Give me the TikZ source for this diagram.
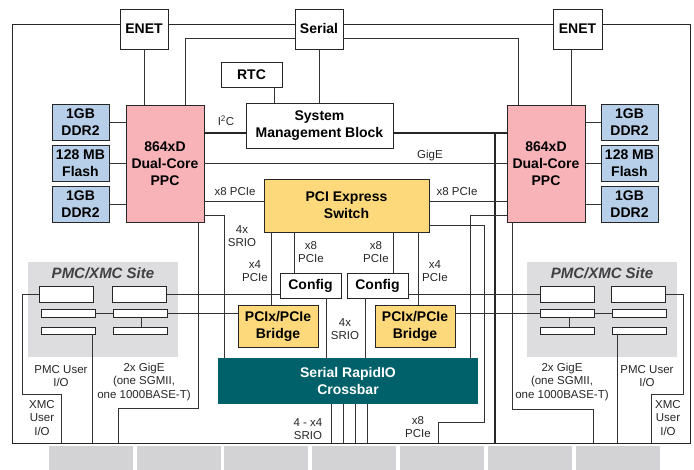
\documentclass[tikz,border=0pt]{standalone}
\usepackage{fontspec}
\setmainfont{Liberation Sans}
\definecolor{ppcpink}{HTML}{F7B3B8}
\definecolor{memblue}{HTML}{B8CFE9}
\definecolor{pcigold}{HTML}{FDD97C}
\definecolor{srioteal}{HTML}{00616B}
\definecolor{sitegray}{HTML}{DDDDE0}
\definecolor{tabgray}{HTML}{D3D3D5}
\begin{document}
\begin{tikzpicture}[x=1pt,y=-1pt,
  wire/.style={draw=black!80,line width=0.8pt},
  bus/.style={draw=black!85,line width=2pt},
  box/.style={draw=black!85,line width=0.9pt,fill=white,align=center,inner sep=0pt,font=\bfseries\fontsize{14}{17}\selectfont},
  ppc/.style={box,fill=ppcpink,minimum width=78pt,minimum height=117pt},
  mem/.style={box,fill=memblue,minimum width=57pt,minimum height=36pt},
  gold/.style={box,fill=pcigold},
  slot/.style={draw=black!85,line width=0.9pt,fill=white,inner sep=0pt,minimum width=54pt},
  site/.style={fill=sitegray,inner sep=0pt,minimum width=150pt,minimum height=95pt},
  sitetitle/.style={inner sep=0pt,text=black!75,font=\bfseries\itshape\fontsize{15}{17}\selectfont},
  lbl/.style={align=center,inner sep=0pt,text=black!85,font=\fontsize{11.5}{13.5}\selectfont}]
\useasboundingbox (0,0) rectangle (694,470);
\node[draw=black!85,line width=0.9pt,inner sep=0pt,minimum width=678pt,minimum height=419pt] (board) at (351,233.5) {};
\node[site] (siteL) at (103,309.5) {};
\node[site] (siteR) at (602,309.5) {};
\foreach \x in {49,137,224,312,400,488,576}
  \fill[tabgray] (\x,446) rectangle ++(84,24);
\node[sitetitle] (tL) at (103,273) {PMC/XMC Site};
\node[sitetitle] (tR) at (602,273) {PMC/XMC Site};
\node[box,minimum width=48pt,minimum height=40pt] (enetL) at (144,29) {ENET};
\node[box,minimum width=48pt,minimum height=40pt] (serial) at (319,29) {Serial};
\node[box,minimum width=49pt,minimum height=40pt] (enetR) at (577.5,29) {ENET};
\node[box,minimum width=61pt,minimum height=25pt] (rtc) at (251.5,74.5) {RTC};
\node[box,minimum width=147pt,minimum height=45pt] (smb) at (319.5,125.5) {System\\Management Block};
\node[ppc] (ppcL) at (165,163.5) {864xD\\Dual-Core\\PPC};
\node[ppc] (ppcR) at (546,163.5) {864xD\\Dual-Core\\PPC};
\node[mem] (memL1) at (80.5,122.5) {1GB\\DDR2};
\node[mem] (memL2) at (80.5,163) {128 MB\\Flash};
\node[mem] (memL3) at (80.5,204) {1GB\\DDR2};
\node[mem] (memR1) at (629.5,122.5) {1GB\\DDR2};
\node[mem] (memR2) at (629.5,163) {128 MB\\Flash};
\node[mem] (memR3) at (629.5,204) {1GB\\DDR2};
\node[gold,minimum width=165pt,minimum height=53pt] (sw) at (346.5,205.5) {PCI Express\\Switch};
\node[box,minimum width=61pt,minimum height=25pt] (cfgL) at (310.5,285.5) {Config};
\node[box,minimum width=61pt,minimum height=25pt] (cfgR) at (377.5,285.5) {Config};
\node[gold,minimum width=80pt,minimum height=42pt] (brL) at (278,326) {PCIx/PCIe\\Bridge};
\node[gold,minimum width=80pt,minimum height=42pt] (brR) at (415,326) {PCIx/PCIe\\Bridge};
\node[box,draw=none,fill=srioteal,text=white,minimum width=260pt,minimum height=46pt] (xbar) at (348,381) {Serial RapidIO\\Crossbar};
\node[slot,minimum height=16pt] (sLa1) at (66.5,294) {};
\node[slot,minimum height=16pt] (sLa2) at (139.5,294) {};
\node[slot,minimum height=8pt] (sLb1) at (68.5,313) {};
\node[slot,minimum height=8pt] (sLb2) at (140,313) {};
\node[slot,minimum height=7pt] (sLc1) at (68.5,330.5) {};
\node[slot,minimum height=7pt] (sLc2) at (140,330.5) {};
\node[slot,minimum height=16pt] (sRa1) at (567,294) {};
\node[slot,minimum height=16pt] (sRa2) at (638.5,294) {};
\node[slot,minimum height=8pt] (sRb1) at (567,313) {};
\node[slot,minimum height=8pt] (sRb2) at (639,313) {};
\node[slot,minimum height=7pt] (sRc1) at (567,330.5) {};
\node[slot,minimum height=7pt] (sRc2) at (639,330.5) {};
\node[lbl] (lI2C) at (226,121) {I\textsuperscript{2}C};
\node[lbl] (lGigE) at (430,156) {GigE};
\node[lbl] (lPcieL) at (235,192) {x8 PCIe};
\node[lbl] (lPcieR) at (457,192) {x8 PCIe};
\node[lbl] (lSrioL) at (242,236) {4x\\SRIO};
\node[lbl] (lX4L) at (255,271) {x4\\PCIe};
\node[lbl] (lX8L) at (311,252) {x8\\PCIe};
\node[lbl] (lX8R) at (376,252) {x8\\PCIe};
\node[lbl] (lX4R) at (435,271) {x4\\PCIe};
\node[lbl] (lSrioC) at (345,329) {4x\\SRIO};
\node[lbl] (lSrioB) at (308,429) {4 - x4\\SRIO};
\node[lbl] (lPcieB) at (418,427) {x8\\PCIe};
\node[lbl] (lPmcL) at (61,376) {PMC User\\I/O};
\node[lbl] (lXmcL) at (42,418) {XMC\\User\\I/O};
\node[lbl] (lGbeL) at (144,382) {2x GigE\\(one SGMII,\\one 1000BASE-T)};
\node[lbl] (lGbeR) at (562,382) {2x GigE\\(one SGMII,\\one 1000BASE-T)};
\node[lbl] (lPmcR) at (647,376) {PMC User\\I/O};
\node[lbl] (lXmcR) at (668,418) {XMC\\User\\I/O};
\coordinate (tap) at (495,133);
\draw[wire] (enetL.south) -- (enetL.south |- ppcL.north);
\draw[wire] (enetR.south -| 571,0) -- (ppcR.north -| 571,0);
\draw[wire] (serial.west |- 0,38) -| (ppcL.north -| 185,0);
\draw[wire] (serial.east |- 0,38) -| (ppcR.north -| 518,0);
\draw[wire] (serial.south) -- (smb.north -| serial.south);
\draw[wire] (rtc.south -| 274,0) -- (smb.north -| 274,0);
\draw[bus] (ppcL.east |- 0,133) -- (smb.west |- 0,133);
\draw[bus] (smb.east |- 0,133) -- (ppcR.west |- 0,133);
\draw[bus] (tap) -- (tap |- board.south);
\draw[wire] (ppcL.east) -- (ppcR.west);
\foreach \i in {1,2,3} {
  \draw[wire] (memL\i.east) -- (memL\i.east -| ppcL.west);
  \draw[wire] (memR\i.west) -- (memR\i.west -| ppcR.east);
}
\draw[wire] (ppcL.east |- 0,201) -- (sw.west |- 0,201);
\draw[wire] (sw.east |- 0,201) -- (ppcR.west |- 0,201);
\draw[wire] (ppcL.east |- 0,215) -| (xbar.north -| 224,0);
\draw[wire] (ppcR.west |- 0,215) -| (xbar.north -| 470,0);
\draw[wire] (sw.east |- 0,225) -| (484,422) -| (board.south -| 438,0);
\draw[wire] (ppcL.south -| 198,0) |- (118,408) -- (board.south -| 118,0);
\draw[wire] (ppcR.south -| 512,0) |- (593,409) -- (board.south -| 593,0);
\foreach \x/\nd in {271/brL,294/cfgL,393/cfgR,418/brR}
  \draw[wire] (sw.south -| \x,0) -- (\nd.north -| \x,0);
\draw[wire] (cfgL.south -| 326,0) -- (xbar.north -| 326,0);
\draw[wire] (cfgR.south -| 365,0) -- (xbar.north -| 365,0);
\foreach \x in {331,343,355,367}
  \draw[wire] (xbar.south -| \x,0) -- (board.south -| \x,0);
\draw[wire] (cfgL.west |- sLa2.east) -- (sLa2.east);
\draw[wire] (cfgR.east |- sRa1.west) -- (sRa1.west);
\draw[wire] (brL.west |- sLb2.east) -- (sLb2.east);
\draw[wire] (brR.east |- sRb1.west) -- (sRb1.west);
\draw[wire] (sLb1.east) -- (sLb2.west);
\draw[wire] (sLb2.south -| 141,0) -- (sLc2.north -| 141,0);
\draw[wire] (sRb1.east) -- (sRb2.west);
\draw[wire] (sRb1.south -| 569,0) -- (sRc1.north -| 569,0);
\draw[wire] (sLa1.west) -| (22,394) -| (board.south -| 61,0);
\draw[wire] (sLc1.south -| 92,0) -- (board.south -| 92,0);
\draw[wire] (sRa2.east) -| (683,394) -| (board.south -| 651,0);
\draw[wire] (sRc2.south -| 617,0) -- (board.south -| 617,0);
\end{tikzpicture}
\end{document}
